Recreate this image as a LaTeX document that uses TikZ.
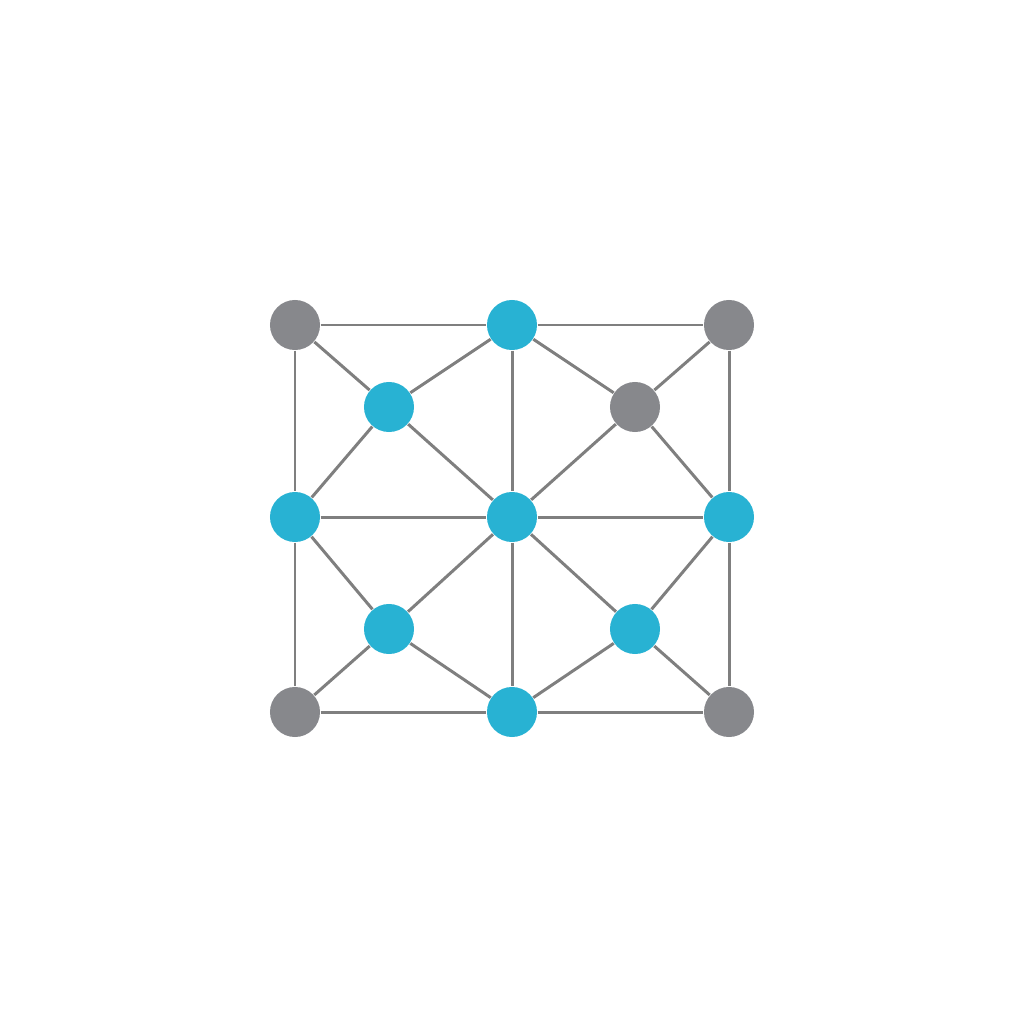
\documentclass[tikz,border=0pt]{standalone}
\usetikzlibrary{positioning}
\definecolor{nodeblue}{HTML}{28B2D3}
\definecolor{nodegray}{HTML}{87888C}
\definecolor{edgegray}{HTML}{7F7F7F}
\begin{document}
\begin{tikzpicture}[
        x=0.01cm,y=-0.01cm,
        bnode/.style={circle,fill=nodeblue,draw=none,inner sep=0pt,minimum size=0.5cm},
        gnode/.style={circle,fill=nodegray,draw=none,inner sep=0pt,minimum size=0.5cm},
        link/.style={draw=edgegray,line width=0.85pt},
        ]
    \useasboundingbox (0,0) rectangle (1024,1024);
    % corners and sides
    \node (tl) [gnode] at (295,325) {};
    \node (tm) [bnode] at (512,325) {};
    \node (tr) [gnode] at (729,325) {};
    \node (ml) [bnode] at (295,517) {};
    \node (c)  [bnode] at (512,517) {};
    \node (mr) [bnode] at (729,517) {};
    \node (bl) [gnode] at (295,712) {};
    \node (bm) [bnode] at (512,712) {};
    \node (br) [gnode] at (729,712) {};
    % inner ones
    \node (ul) [bnode] at (389,407) {};
    \node (ur) [gnode] at (635,407) {};
    \node (ll) [bnode] at (389,629) {};
    \node (lr) [bnode] at (635,629) {};
    % outer frame
    \path[link] (tl) -- (tm) (tm) -- (tr)
        (tl) -- (ml) (ml) -- (bl)
        (tr) -- (mr) (mr) -- (br)
        (bl) -- (bm) (bm) -- (br);
    % middle cross
    \path[link] (tm) -- (c) (c) -- (bm)
        (ml) -- (c) (c) -- (mr);
    % upper left
    \path[link] (tl) -- (ul) (ul) -- (tm) (ul) -- (ml) (ul) -- (c);
    % upper right
    \path[link] (tr) -- (ur) (ur) -- (tm) (ur) -- (mr) (ur) -- (c);
    % lower left
    \path[link] (bl) -- (ll) (ll) -- (bm) (ll) -- (ml) (ll) -- (c);
    % lower right
    \path[link] (br) -- (lr) (lr) -- (bm) (lr) -- (mr) (lr) -- (c);
\end{tikzpicture}
\end{document}
